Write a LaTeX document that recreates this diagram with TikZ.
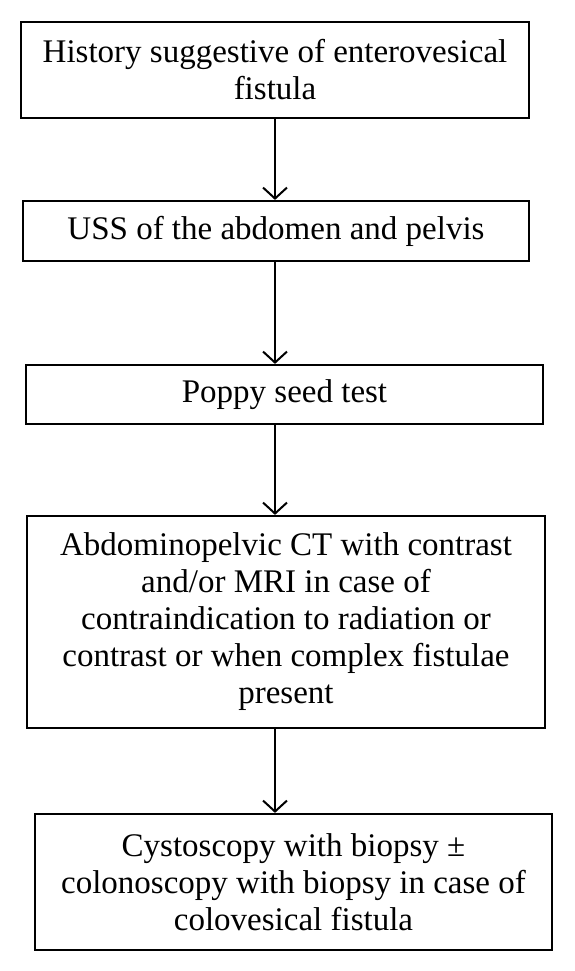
\documentclass[tikz,border=0pt]{standalone}
\usepackage{fontspec}
\setmainfont{Liberation Serif}
\usetikzlibrary{arrows.meta}
\begin{document}
\begin{tikzpicture}[x=1pt,y=-1pt,
  box/.style={draw, line width=2.2pt, align=center, inner sep=0pt, font=\fontsize{33}{37}\selectfont},
  arr/.style={line width=2pt, -{Straight Barb[length=11pt,width=24pt,line width=2pt]}}]
\useasboundingbox[fill=white] (0,0) rectangle (574,971);
\node[box, minimum width=508pt, minimum height=96pt] (b1) at (275,70) {History suggestive of enterovesical\\fistula};
\node[box, minimum width=506pt, minimum height=60pt] (b2) at (276,231) {USS of the abdomen and pelvis};
\node[box, minimum width=517pt, minimum height=59pt] (b3) at (284.5,394.5) {Poppy seed test};
\node[box, minimum width=518pt, minimum height=212pt] (b4) at (286,622) {Abdominopelvic CT with contrast\\and/or MRI in case of\\contraindication to radiation or\\contrast or when complex fistulae\\present};
\node[box, minimum width=517pt, minimum height=136pt] (b5) at (293.5,882) {Cystoscopy with biopsy ±\\colonoscopy with biopsy in case of\\colovesical fistula};
\coordinate (ax) at (275,0);
\draw[arr] (b1.south -| ax) -- (b2.north -| ax);
\draw[arr] (b2.south -| ax) -- (b3.north -| ax);
\draw[arr] (b3.south -| ax) -- (b4.north -| ax);
\draw[arr] (b4.south -| ax) -- (b5.north -| ax);
\end{tikzpicture}
\end{document}
